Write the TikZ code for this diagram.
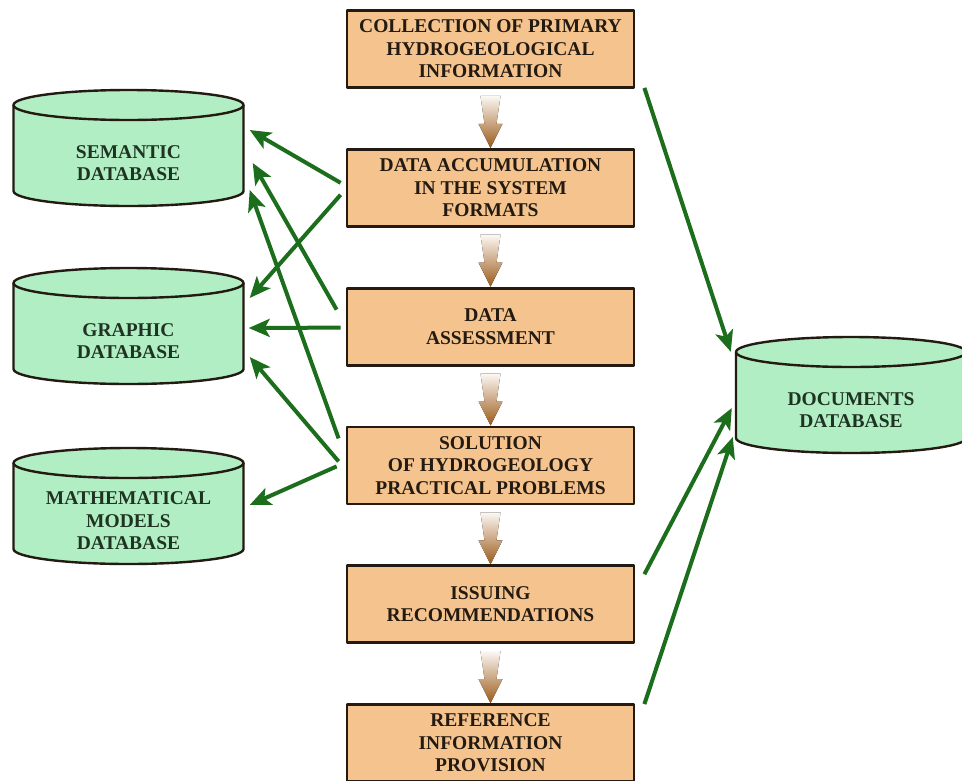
\documentclass[tikz,border=0pt]{standalone}
\usepackage{fontspec}
\setmainfont{Liberation Serif}
\usetikzlibrary{calc, arrows.meta, positioning}
\definecolor{ink}{HTML}{231A12}
\definecolor{boxfill}{HTML}{F5C48E}
\definecolor{dbfill}{HTML}{B2EEC4}
\definecolor{dbink}{HTML}{1F3322}
\definecolor{link}{HTML}{1C6E1C}
\definecolor{flow}{HTML}{C2701F}
\tikzset{
  stage/.style={draw=ink, line width=2.8pt, fill=boxfill, minimum width=287pt, minimum height=77pt,
    inner sep=0pt, align=center, text=ink, font=\bfseries\fontsize{19.5}{22.5}\selectfont},
  dbtext/.style={minimum width=230pt, minimum height=86pt, inner sep=0pt, align=center,
    text=dbink, font=\bfseries\fontsize{19.5}{22.5}\selectfont},
  dbline/.style={draw=ink, line width=2.4pt, fill=dbfill},
  feed/.style={draw=link, line width=4pt, -{Stealth[length=21pt,width=18pt,inset=5pt]}},
}
% database cylinder round a named node
\newcommand{\dbase}[3]{%
  \filldraw[dbline] ($(#2)+(-115,-58)$) -- ($(#2)+(-115,28)$)
    arc[start angle=180, end angle=360, x radius=115pt, y radius=15pt] -- ($(#2)+(115,-58)$);
  \filldraw[dbline] ($(#2)+(0,-58)$) ellipse[x radius=115pt, y radius=15pt];
  \node[dbtext] (#1) at (#2) {#3};}
% faded arrow between two stages
\newcommand{\flowto}[2]{%
  \fill[top color=flow!5, middle color=flow, bottom color=flow!80!black]
    ($(#1.south)+(-10,7)$) -- ($(#1.south)+(10,7)$) -- ($(#2.north)+(6,-24)$) -- ($(#2.north)+(12,-24)$)
    -- (#2.north) -- ($(#2.north)+(-12,-24)$) -- ($(#2.north)+(-6,-24)$) -- cycle;}

\begin{document}
\begin{tikzpicture}[x=1pt, y=-1pt, node distance=59pt, line join=round]
  \useasboundingbox (0,0) rectangle (962,780);

  % main chain
  \node[stage] (collect) at (490.5,49) {COLLECTION OF PRIMARY\\HYDROGEOLOGICAL\\INFORMATION};
  \node[stage, below=of collect] (accum) {DATA ACCUMULATION\\IN THE SYSTEM\\FORMATS};
  \node[stage, below=of accum] (assess) {DATA\\ASSESSMENT};
  \node[stage, below=of assess] (solve) {SOLUTION\\OF HYDROGEOLOGY\\PRACTICAL PROBLEMS};
  \node[stage, below=of solve] (issue) {ISSUING\\RECOMMENDATIONS};
  \node[stage, below=of issue] (refer) {REFERENCE\\INFORMATION\\PROVISION};
  \flowto{collect}{accum}
  \flowto{accum}{assess}
  \flowto{assess}{solve}
  \flowto{solve}{issue}
  \flowto{issue}{refer}

  % databases
  \dbase{sem}{128.5,163}{SEMANTIC\\DATABASE}
  \dbase{gra}{128.5,341}{GRAPHIC\\DATABASE}
  \dbase{math}{128.5,521}{MATHEMATICAL\\MODELS\\DATABASE}
  \dbase{docs}{851,410}{DOCUMENTS\\DATABASE}

  % links
  \draw[feed] ($(accum.west)+(-5,-5)$) -- ($(sem.east)+(6,-33)$);
  \draw[feed] ($(accum.west)+(-5,7)$) -- ($(gra.east)+(6,-43)$);
  \draw[feed] ($(assess.west)+(-9,-17)$) -- ($(sem.east)+(9,0)$);
  \draw[feed] ($(assess.west)+(-5,1)$) -- ($(gra.east)+(5,-13)$);
  \draw[feed] ($(solve.west)+(-7,-27)$) -- ($(sem.east)+(6,27)$);
  \draw[feed] ($(solve.west)+(-7,-4)$) -- ($(gra.east)+(6,16)$);
  \draw[feed] ($(solve.west)+(-9,1)$) -- ($(math.east)+(6,-16)$);
  \draw[feed] ($(collect.south east)+(9,-1)$) -- ($(docs.north west)+(-5,-15)$);
  \draw[feed] ($(issue.east)+(9,-30)$) -- ($(docs.west)+(-4,-2)$);
  \draw[feed] ($(refer.north east)+(9,1)$) -- ($(docs.west)+(-3,27)$);
\end{tikzpicture}
\end{document}
